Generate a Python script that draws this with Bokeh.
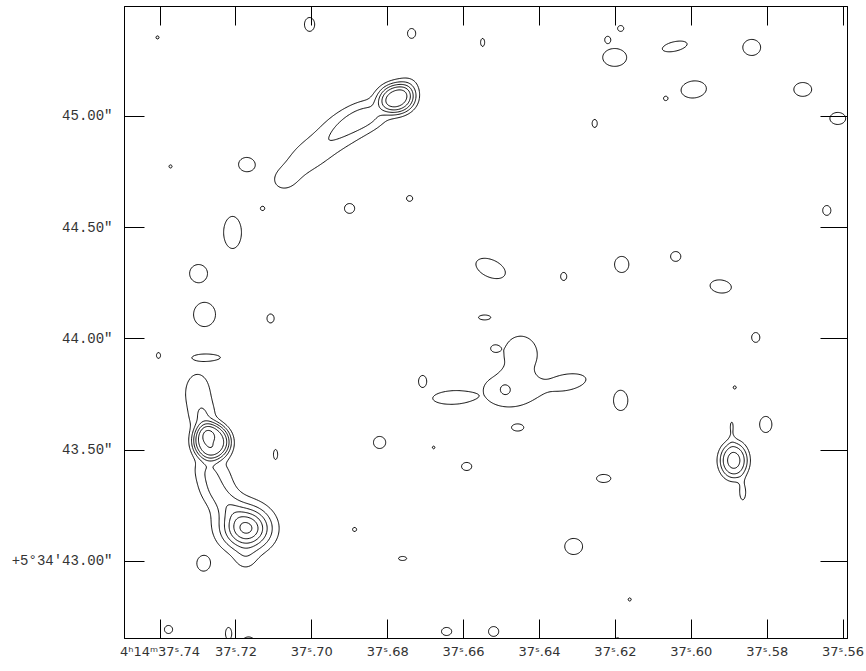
import numpy as np
from bokeh.plotting import figure
from bokeh.models import Range1d, LinearAxis, FixedTicker, CustomJSTickFormatter
from bokeh.embed import file_html
from bokeh.resources import INLINE

# ---------------- axes (RA seconds of 4h14m, Dec arcsec of +5d34') ----------------
ra_ticks = [37.74, 37.72, 37.70, 37.68, 37.66, 37.64, 37.62, 37.60, 37.58, 37.56]
ra_tick_labels = ["4ʰ14ᵐ37ˢ.74", "37ˢ.72", "37ˢ.70", "37ˢ.68", "37ˢ.66",
                  "37ˢ.64", "37ˢ.62", "37ˢ.60", "37ˢ.58", "37ˢ.56"]
dec_ticks = [43.0, 43.5, 44.0, 44.5, 45.0]
dec_tick_labels = ['+5°34\'43.00"', '43.50"', '44.00"', '44.50"', '45.00"']

ra_min, ra_max = 37.55884, 37.74936
dec_min, dec_max = 42.654, 45.493

contour_levels = [1, 2, 3, 4, 5, 6]

# ---------------- image model: faint noise peaks (peak 1.65, sigma in mas) ----------------
blob_ra = [37.74066, 37.70059, 37.67370, 37.65499, 37.61861, 37.62204, 37.62019, 37.60437, 37.58408, 37.59936,
           37.60675, 37.57063, 37.62546, 37.56140, 37.73723, 37.71720, 37.67423, 37.69005, 37.71298, 37.72089,
           37.72985, 37.72827, 37.71087, 37.65446, 37.65288, 37.63363, 37.61834, 37.60411, 37.59225, 37.56430,
           37.58302, 37.74040, 37.72748, 37.67080, 37.65182, 37.64576, 37.61861, 37.58856, 37.58038, 37.66790,
           37.68214, 37.70955, 37.65920, 37.62309, 37.68873, 37.72853, 37.63100, 37.67608, 37.61624, 37.73776,
           37.72194, 37.71667, 37.66448, 37.65209, 37.61940]
blob_dec = [45.35402, 45.41242, 45.37199, 45.33156, 45.39445, 45.34503, 45.26417, 45.31359, 45.30909, 45.12041,
            45.07998, 45.12041, 44.96767, 44.99013, 44.77450, 44.78348, 44.63074, 44.58582, 44.58582, 44.47800,
            44.29381, 44.10962, 44.09165, 44.09615, 44.31627, 44.28033, 44.33424, 44.37018, 44.23541, 44.57683,
            44.00630, 43.92543, 43.91645, 43.80863, 43.95688, 43.60198, 43.72328, 43.78168, 43.61546, 43.51213,
            43.53460, 43.48069, 43.42678, 43.37287, 43.14376, 42.99102, 43.06739, 43.01348, 42.82929, 42.69452,
            42.67655, 42.63000, 42.68553, 42.68553, 42.63000]
blob_su = [6, 20, 16, 8, 12, 10, 47, 50, 35, 50,
           8, 35, 10, 31, 6, 31, 12, 20, 8, 35,
           35, 43, 14, 24, 63, 12, 28, 20, 42, 16,
           16, 8, 47, 16, 14, 24, 28, 6, 24, 5,
           24, 8, 20, 28, 8, 26, 35, 16, 6, 16,
           12, 28, 20, 20, 16]
blob_sv = [7, 31, 22, 18, 13, 13, 40, 21, 36, 38,
           9, 31, 18, 27, 7, 31, 13, 22, 9, 72,
           40, 54, 20, 11, 38, 18, 36, 22, 29, 22,
           22, 13, 13, 27, 13, 16, 45, 7, 36, 6,
           27, 22, 18, 18, 9, 34, 36, 9, 7, 18,
           27, 31, 18, 22, 27]
blob_pa = [0, 0, 0, 0, 0, 0, 0, 15, 0, 10,
           0, 0, 0, 0, 0, 0, 0, 0, 0, 0,
           0, 0, 0, 0, -30, 0, 0, 0, -10, 0,
           0, 0, 0, 0, 0, 0, 0, 0, 0, 0,
           0, 0, 0, 0, 0, 0, 0, 0, 0, 0,
           0, 0, 0, 0, 0]
blob_peak = 1.65

# ---------------- image model: jets, cores and extended emission ----------------
# NE jet (6 knots + core + core extension), SW double source, E compact source, central cloud, leaf
src_ra = [37.70744, 37.70217, 37.69769, 37.69295, 37.68820, 37.68372, 37.67766, 37.67449,
          37.73011, 37.72853, 37.72642, 37.72721, 37.72537, 37.72194, 37.72458, 37.71720, 37.71746,
          37.58882, 37.58935, 37.58645,
          37.64497, 37.64813, 37.63311, 37.64892, 37.66263]
src_dec = [44.71160, 44.80594, 44.85985, 44.92724, 44.98115, 45.01709, 45.07998, 45.13389,
           43.75922, 43.63343, 43.53909, 43.40881, 43.31896, 43.25157, 43.36388, 43.14825, 43.00449,
           43.45373, 43.60647, 43.30998,
           43.92993, 43.76820, 43.80414, 43.77269, 43.73675]
src_amp = [1.10, 1.00, 1.05, 1.35, 1.45, 1.50, 5.2, 1.2,
           1.5, 1.6, 5.4, 1.1, 1.1, 1.1, 1.0, 6.2, 1.0,
           4.3, 1.1, 1.4,
           1.5, 1.4, 1.5, -1.0, 1.6]
src_su = [63, 63, 63, 63, 63, 63, 57, 35,
          51, 35, 63, 50, 50, 50, 87, 67, 35,
          46, 12, 14,
          70, 110, 90, 16, 83]
src_sv = [60, 58, 54, 56, 52, 48, 54, 40,
          90, 54, 70, 36, 36, 36, 126, 67, 40,
          67, 45, 40,
          88, 81, 40, 18, 31]
src_pa = [50, 45, 40, 32, 25, 25, 0, 0,
          0, 0, 0, -65, -65, -60, 0, 0, 0,
          0, 0, 0,
          0, 0, 12, 0, 3]
src_shape = [2, 2, 2, 2, 2, 2, 3, 2,
             2, 2, 4, 2, 2, 2, 2, 2, 2,
             3, 2, 2,
             3, 4, 2, 2, 6]

# ---------------- build the image on a grid ----------------
cos_dec = np.cos(np.radians(5 + 34 / 60 + 44 / 3600))
gx = np.linspace(ra_min, ra_max, 820)
gy = np.linspace(dec_min, dec_max, 720)
X, Y = np.meshgrid(gx, gy)
Z = np.zeros_like(X)


def component(ra, dec, amp, su, sv, pa, shape):
    du = (ra - X) * 15000.0 * cos_dec      # mas, positive to the west
    dv = (Y - dec) * 1000.0                # mas, positive to the north
    t = np.radians(pa)
    a = du * np.cos(t) + dv * np.sin(t)
    b = -du * np.sin(t) + dv * np.cos(t)
    q = (a / su) ** 2 + (b / sv) ** 2
    return amp * np.exp(-0.5 * q ** (shape / 2.0))


for i in range(len(blob_ra)):
    Z += component(blob_ra[i], blob_dec[i], blob_peak, blob_su[i], blob_sv[i], blob_pa[i], 2)
for i in range(len(src_ra)):
    Z += component(src_ra[i], src_dec[i], src_amp[i], src_su[i], src_sv[i], src_pa[i], src_shape[i])

# ---------------- figure ----------------
p = figure(frame_width=723, frame_height=632,
           x_range=Range1d(ra_max, ra_min), y_range=Range1d(dec_min, dec_max),
           output_backend="svg", toolbar_location=None,
           min_border_left=124, min_border_right=17, min_border_top=6, min_border_bottom=10,
           background_fill_color="white", border_fill_color="white")
p.grid.visible = False
p.outline_line_color = "black"
p.outline_line_width = 1

p.contour(gx, gy, Z, levels=contour_levels, line_color="black", line_width=1.0)

label_color = "#333333"

xa = p.xaxis[0]
xa.ticker = FixedTicker(ticks=ra_ticks, minor_ticks=[])
xa.formatter = CustomJSTickFormatter(args=dict(labels=ra_tick_labels), code="return labels[index];")
xa.major_tick_in = 19
xa.major_tick_out = 0
xa.minor_tick_in = 0
xa.minor_tick_out = 0
xa.major_label_standoff = 5
xa.major_label_text_font = "DejaVu Sans"
xa.major_label_text_font_size = "13px"
xa.major_label_text_color = label_color
xa.axis_line_color = "black"

ya = p.yaxis[0]
ya.ticker = FixedTicker(ticks=dec_ticks, minor_ticks=[])
ya.formatter = CustomJSTickFormatter(args=dict(labels=dec_tick_labels), code="return labels[index];")
ya.major_tick_in = 20
ya.major_tick_out = 0
ya.minor_tick_in = 0
ya.minor_tick_out = 0
ya.major_label_standoff = 12
ya.major_label_text_font = "Liberation Mono"
ya.major_label_text_font_size = "14px"
ya.major_label_text_color = label_color
ya.axis_line_color = "black"

blank = CustomJSTickFormatter(code="return '';")
top = LinearAxis(ticker=FixedTicker(ticks=ra_ticks, minor_ticks=[]), formatter=blank,
                 major_tick_in=19, major_tick_out=0, minor_tick_in=0, minor_tick_out=0,
                 major_label_text_font_size="1px", major_label_text_color=None,
                 major_label_standoff=0, axis_line_color="black")
p.add_layout(top, "above")
right = LinearAxis(ticker=FixedTicker(ticks=dec_ticks, minor_ticks=[]), formatter=blank,
                   major_tick_in=27, major_tick_out=0, minor_tick_in=0, minor_tick_out=0,
                   major_label_text_font_size="1px", major_label_text_color=None,
                   major_label_standoff=0, axis_line_color="black")
p.add_layout(right, "right")

open("out.html", "w").write(file_html(p, INLINE))
